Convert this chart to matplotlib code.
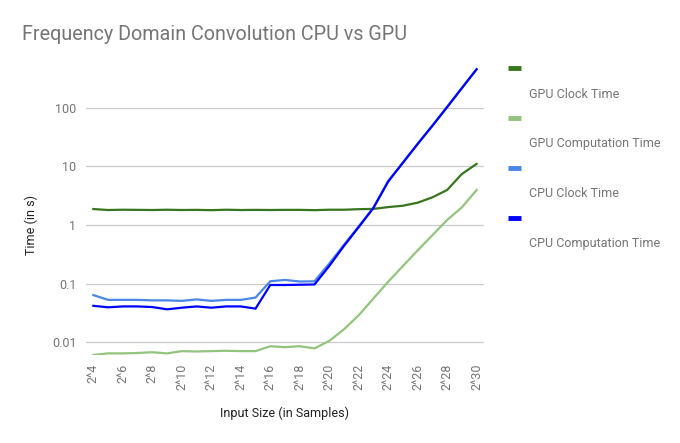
import matplotlib
matplotlib.use("Agg")
import matplotlib.pyplot as plt
from matplotlib.lines import Line2D
import numpy as np

plt.rcParams['font.family'] = ['Roboto', 'DejaVu Sans']

exponents = list(range(4, 31))
tick_labels = [f"2^{e}" for e in exponents]

gpu_clock = [1.87, 1.80, 1.82, 1.81, 1.80, 1.82, 1.80, 1.81, 1.79, 1.82, 1.80, 1.81, 1.80, 1.81,
             1.81, 1.79, 1.82, 1.82, 1.86, 1.88, 2.02, 2.13, 2.4, 2.96, 3.95, 7.4, 11.0]
gpu_comp = [0.0061, 0.0065, 0.0065, 0.0066, 0.0068, 0.0065, 0.0071, 0.0070, 0.0071, 0.0072, 0.0071,
            0.0071, 0.0086, 0.0083, 0.0086, 0.0079, 0.0106, 0.0167, 0.029, 0.056, 0.108, 0.2,
            0.37, 0.67, 1.22, 2.0, 3.95]
cpu_clock = [0.064, 0.053, 0.053, 0.053, 0.052, 0.052, 0.051, 0.054, 0.051, 0.053, 0.053, 0.058,
             0.11, 0.116, 0.109, 0.11, 0.22, 0.46, 0.95, 1.98, 5.6, 11.6, 24.2, 49.5, 103, 216, 452]
cpu_comp = [0.042, 0.0396, 0.041, 0.041, 0.040, 0.0366, 0.039, 0.041, 0.039, 0.041, 0.041, 0.0376,
            0.095, 0.095, 0.096, 0.097, 0.2, 0.44, 0.92, 1.95, 5.5, 11.5, 24, 49, 102, 215, 450]

series_names = ["GPU Clock Time", "GPU Computation Time", "CPU Clock Time", "CPU Computation Time"]
series = [gpu_clock, gpu_comp, cpu_clock, cpu_comp]
colors = ["#38761d", "#93c47d", "#4a86e8", "#0000ff"]

W, H = 680, 443
fig = plt.figure(figsize=(W / 100, H / 100), dpi=100)
ax_l, ax_r, ax_t, ax_b = 86, 484, 60, 355
ax = fig.add_axes([ax_l / W, 1 - ax_b / H, (ax_r - ax_l) / W, (ax_b - ax_t) / H])

for vals, c in zip(series, colors):
    ax.plot(exponents, vals, color=c, lw=1.6, solid_joinstyle='round')

ax.set_yscale('log')
# y mapping: 1 at y=225, 58.7 px per decade
lo = 10 ** ((225 - ax_b) / 58.7)
hi = 10 ** ((225 - ax_t) / 58.7)
ax.set_ylim(lo, hi)
ax.set_xlim(3.5, 30.5)

yt = [0.01, 0.1, 1, 10, 100]
ax.set_yticks(yt)
ax.set_yticklabels(["0.01", "0.1", "1", "10", "100"])
ax.yaxis.set_minor_locator(matplotlib.ticker.NullLocator())
ax.set_xticks(exponents[::2])
ax.set_xticklabels(tick_labels[::2], rotation=90, va='top')
ax.tick_params(axis='y', length=0, pad=7, labelsize=9, labelcolor='#757575')
ax.tick_params(axis='x', length=0, pad=6, labelsize=9, labelcolor='#757575')
ax.grid(axis='y', color='#cccccc', lw=0.9)
ax.set_axisbelow(True)
for s in ax.spines.values():
    s.set_visible(False)

fig.text(285 / W, 1 - 413 / H, "Input Size (in Samples)", ha='center', va='center',
         fontsize=9, color='#222222')
fig.text(31 / W, 1 - 225 / H, "Time (in s)", ha='center', va='center', rotation=90,
         fontsize=9, color='#222222')
fig.text(22 / W, 1 - 35 / H, "Frequency Domain Convolution CPU vs GPU", ha='left', va='center',
         fontsize=14.2, color='#757575')

for i, (name, c) in enumerate(zip(series_names, colors)):
    ym = 68 + 50 * i
    fig.add_artist(Line2D([508 / W, 521 / W], [1 - ym / H, 1 - ym / H], color=c, lw=3.5,
                          solid_capstyle='butt'))
    fig.text(529 / W, 1 - (ym + 26) / H, name, ha='left', va='center', fontsize=9,
             color='#757575')

fig.savefig("out.png", dpi=100, facecolor='white')
